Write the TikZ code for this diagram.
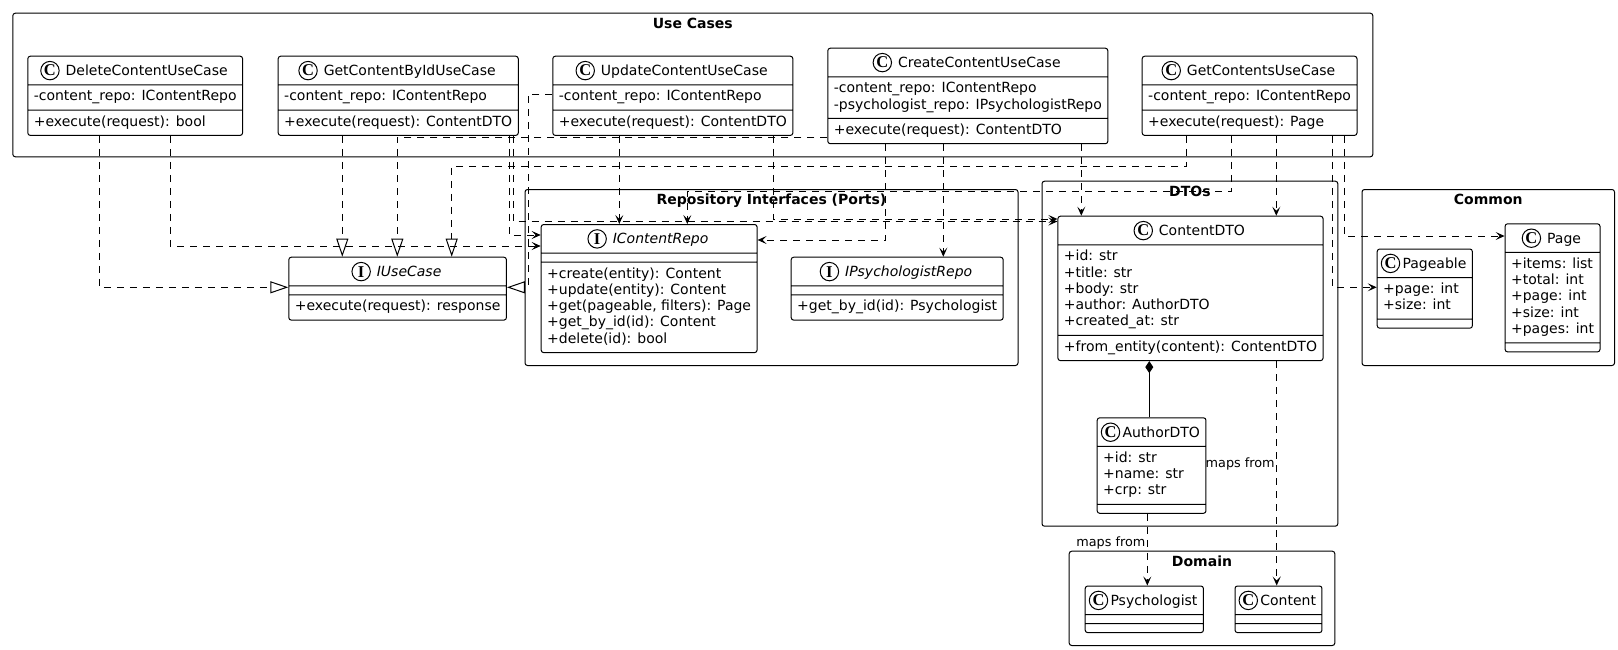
\documentclass[tikz,border=0pt]{standalone}
\usepackage{fontspec}
\setmainfont{DejaVu Sans}
\newfontfamily\iconfont{Liberation Serif}
\usetikzlibrary{shapes.multipart, arrows.meta}

\newcommand{\umlicon}[1]{\tikz[baseline=-5pt]{\draw[line width=1pt, fill=white, solid, sharp corners] (0,0) circle (9.2pt); \node[shape=rectangle, anchor=center, draw=none, inner sep=0pt, font=\iconfont\bfseries\fontsize{16.5}{16.5}\selectfont] at (0,0) {#1};}}
\newcommand{\hdr}[3][6pt]{\rule[-4.7pt]{0pt}{19.6pt}\hspace{-2.4pt}\umlicon{#2}\hspace{#1}#3\hspace{-2.4pt}}
\newcommand{\mbr}[1]{\begin{tabular}{@{}l@{}}#1\end{tabular}}
\newcommand{\noparts}{\rule{0.1pt}{0pt}}

\begin{document}
\begin{tikzpicture}[
    x=1pt, y=-1pt,
    cls/.style={rectangle split, rectangle split parts=3, draw, line width=1pt, rounded corners=2.5pt,
        inner xsep=6pt, inner ysep=4pt, rectangle split part align={center,left,left},
        font=\fontsize{14}{16.3}\selectfont, anchor=north west},
    pkg/.style={draw, line width=1pt, rounded corners=2.5pt, inner sep=0pt, anchor=north west},
    pkgtitle/.style={font=\bfseries\fontsize{14}{16}\selectfont, inner sep=0pt, anchor=base},
    dep/.style={-{Stealth[length=9pt, width=8pt, inset=4pt]}, dash pattern=on 7pt off 6pt, line width=1pt},
    impl/.style={-{Triangle[open, length=18pt, width=12pt]}, dash pattern=on 7pt off 6pt, line width=1pt},
    comp/.style={-{Diamond[length=12pt, width=8pt]}, line width=1pt},
    lbl/.style={font=\fontsize{12.8}{14}\selectfont, inner sep=1.5pt}
]
\useasboundingbox (0,0) rectangle (1618,649);

% Packages
\node[pkg, minimum width=1360pt, minimum height=143.6pt] (ucpkg) at (12.3,12.7) {};
\node[pkgtitle] (ucttl) at ([yshift=-15.4pt]ucpkg.north) {Use Cases};
\node[pkg, minimum width=493pt, minimum height=176pt] (repopkg) at (524.5,189) {};
\node[pkgtitle] (repottl) at ([yshift=-15.4pt]repopkg.north) {Repository Interfaces (Ports)};
\node[pkg, minimum width=295.8pt, minimum height=345pt] (dtopkg) at (1041.5,180.7) {};
\node[pkgtitle] (dtottl) at ([yshift=-15.4pt]dtopkg.north) {DTOs};
\node[pkg, minimum width=252.5pt, minimum height=176pt] (commonpkg) at (1361.5,189) {};
\node[pkgtitle] (commonttl) at ([yshift=-15.4pt]commonpkg.north) {Common};
\node[pkg, minimum width=265.6pt, minimum height=94.3pt] (domainpkg) at (1068.7,550.7) {};
\node[pkgtitle] (domainttl) at ([yshift=-15.4pt]domainpkg.north) {Domain};

% Use cases
\node[cls] (delete) at (27.3,55.7) {\hdr{C}{DeleteContentUseCase}
    \nodepart{two}\mbr{-content\_repo: IContentRepo}
    \nodepart{three}\mbr{+execute(request): bool}};
\node[cls] (getbyid) at (277.7,55.7) {\hdr{C}{GetContentByIdUseCase}
    \nodepart{two}\mbr{-content\_repo: IContentRepo}
    \nodepart{three}\mbr{+execute(request): ContentDTO}};
\node[cls] (update) at (552.3,55.7) {\hdr{C}{UpdateContentUseCase}
    \nodepart{two}\mbr{-content\_repo: IContentRepo}
    \nodepart{three}\mbr{+execute(request): ContentDTO}};
\node[cls] (create) at (827.3,47.7) {\hdr{C}{CreateContentUseCase}
    \nodepart{two}\mbr{-content\_repo: IContentRepo\\-psychologist\_repo: IPsychologistRepo}
    \nodepart{three}\mbr{+execute(request): ContentDTO}};
\node[cls] (getcontents) at (1141.7,55.7) {\hdr{C}{GetContentsUseCase}
    \nodepart{two}\mbr{-content\_repo: IContentRepo}
    \nodepart{three}\mbr{+execute(request): Page}};
\node[cls] (iusecase) at (288.3,256.7) {\hdr{I}{{\itshape IUseCase}}%
    \nodepart{two}\noparts
    \nodepart{three}\mbr{+execute(request): response}};

% Ports
\node[cls] (icontentrepo) at (540.7,224) {\hdr{I}{{\itshape IContentRepo}}%
    \nodepart{two}\noparts
    \nodepart{three}\mbr{+create(entity): Content\\+update(entity): Content\\+get(pageable, filters): Page\\+get\_by\_id(id): Content\\+delete(id): bool}};
\node[cls] (ipsychrepo) at (790.7,256.7) {\hdr{I}{{\itshape IPsychologistRepo}}%
    \nodepart{two}\noparts
    \nodepart{three}\mbr{+get\_by\_id(id): Psychologist}};

% DTOs
\node[cls] (contentdto) at (1057.4,215.7) {\hdr{C}{ContentDTO}
    \nodepart{two}\mbr{+id: str\\+title: str\\+body: str\\+author: AuthorDTO\\+created\_at: str}
    \nodepart{three}\mbr{+from\_entity(content): ContentDTO}};
\node[cls] (authordto) at (1096.7,417.3) {\hdr[2.3pt]{C}{AuthorDTO}
    \nodepart{two}\mbr{+id: str\\+name: str\\+crp: str}
    \nodepart{three}\noparts};

% Common
\node[cls] (pageable) at (1376.7,248.5) {\hdr[2.3pt]{C}{Pageable}
    \nodepart{two}\mbr{+page: int\\+size: int}
    \nodepart{three}\noparts};
\node[cls] (page) at (1504.6,223.3) {\hdr{C}{Page}
    \nodepart{two}\mbr{+items: list\\+total: int\\+page: int\\+size: int\\+pages: int}
    \nodepart{three}\noparts};

% Domain
\node[cls] (psychologist) at (1084.7,585.5) {\hdr[2.3pt]{C}{Psychologist}
    \nodepart{two}\noparts
    \nodepart{three}\noparts};
\node[cls] (content) at (1234.5,585.5) {\hdr[2.3pt]{C}{Content}
    \nodepart{two}\noparts
    \nodepart{three}\noparts};

% Realizations
\draw[impl] (99.3,0 |- delete.south) |- (iusecase.west |- 0,287.3);
\draw[impl] (342.3,0 |- getbyid.south) -- (342.3,0 |- iusecase.north);
\draw[impl] (create.west |- 0,137) -| (397.3,0 |- iusecase.north);
\draw[impl] (1186.7,0 |- getcontents.south) |- (451.7,166.3) -- (451.7,0 |- iusecase.north);
\draw[impl] (update.west |- 0,94.3) -| (528.3,287.3) -- (iusecase.east |- 0,287.3);

% Dependencies
\draw[dep] (170.3,0 |- delete.south) |- (icontentrepo.west |- 0,246);
\draw[dep] (509.3,0 |- getbyid.south) |- (icontentrepo.west |- 0,235);
\draw[dep] (513.3,0 |- getbyid.south) |- (contentdto.west |- 0,221.5);
\draw[dep] (773.3,0 |- update.south) |- (contentdto.west |- 0,219);
\draw[dep] (619.3,0 |- update.south) -- (619.3,0 |- icontentrepo.north);
\draw[dep] (885.7,0 |- create.south) |- (icontentrepo.east |- 0,240);
\draw[dep] (943.3,0 |- create.south) -- (943.3,0 |- ipsychrepo.north);
\draw[dep] (1081.3,0 |- create.south) -- (1081.3,0 |- contentdto.north);
\draw[dep] (1231.7,0 |- getcontents.south) |- (687.3,191) -- (687.3,0 |- icontentrepo.north);
\draw[dep] (1276.3,0 |- getcontents.south) -- (1276.3,0 |- contentdto.north);
\draw[dep] (1332.5,0 |- getcontents.south) |- (pageable.west |- 0,287.3);
\draw[dep] (1344.5,0 |- getcontents.south) |- (page.west |- 0,236);
\draw[comp] (1149.3,0 |- authordto.north) -- (1149.3,0 |- contentdto.south);
\draw[dep] (1147.3,0 |- authordto.south) -- (1147.3,0 |- psychologist.north) node[lbl, pos=0.4, anchor=east] {maps from};
\draw[dep] (1276.7,0 |- contentdto.south) -- (1276.7,0 |- content.north) node[lbl, pos=0.46, anchor=east] {maps from};

\end{tikzpicture}
\end{document}
